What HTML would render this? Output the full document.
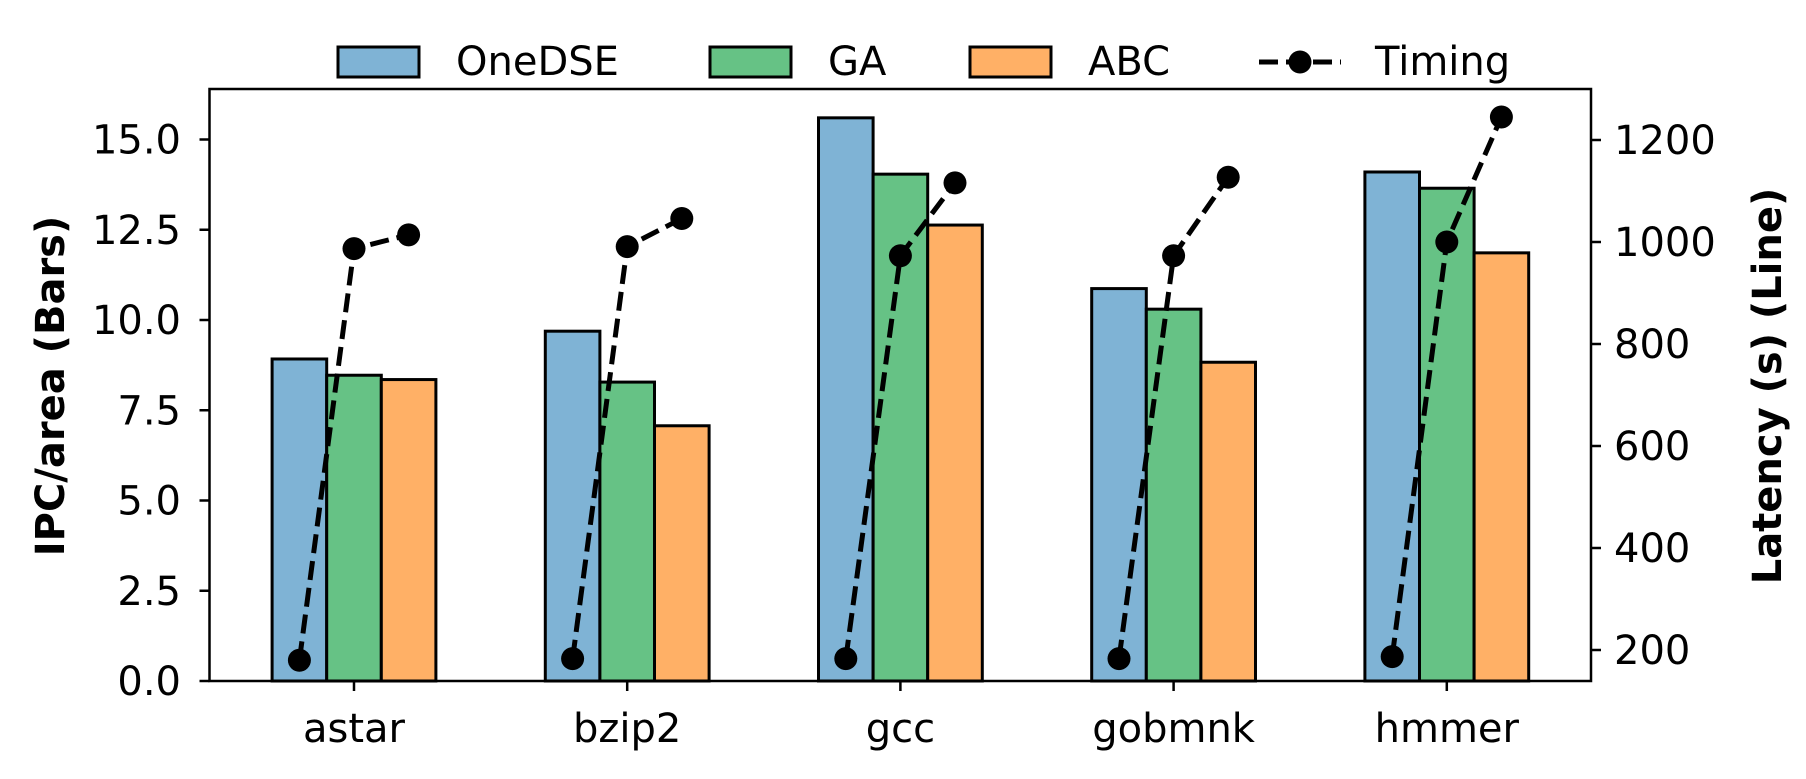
<!DOCTYPE html>
<html><head><meta charset="utf-8"><style>
body{margin:0;background:#fff;}
svg{display:block;font-family:"DejaVu Sans","Liberation Sans",sans-serif;}
</style></head><body>
<svg id="chart" width="1806" height="779" viewBox="0 0 1806 779"></svg>
<script>
const categories=["astar","bzip2","gcc","gobmnk","hmmer"];
const oneDSE=[8.92,9.69,15.6,10.87,14.1];
const ga=[8.47,8.28,14.04,10.3,13.65];
const abc=[8.35,7.07,12.63,8.83,11.86];
const timingOneDSE=[180,183,183,183,187];
const timingGA=[987,991,973,973,1000];
const timingABC=[1014,1046,1116,1127,1245];
const leftTicks=[0,2.5,5,7.5,10,12.5,15];
const leftTickLabels=["0.0","2.5","5.0","7.5","10.0","12.5","15.0"];
const rightTicks=[200,400,600,800,1000,1200];

const svg=document.getElementById('chart');
const NS='http://www.w3.org/2000/svg';
const L=209.5,R=1591,T=89,B=681;
const FS=40;
const yL=v=>B-v*36.1;
const yR=v=>650-(v-200)*(510/1000);
const x0=354,gap=273.2,bw=54.6;
const xC=i=>x0+i*gap;
function mk(tag,attrs,name,text){const e=document.createElementNS(NS,tag);for(const k in attrs)e.setAttribute(k,attrs[k]);


if(text!==undefined)e.textContent=text;svg.appendChild(e);return e;}
const series=[[oneDSE,'#7fb3d5','onedse'],[ga,'#66c285','ga'],[abc,'#ffb066','abc']];
series.forEach((s,si)=>{s[0].forEach((v,i)=>{const cx=xC(i)+(si-1)*bw;
mk('rect',{x:cx-bw/2,y:yL(v),width:bw,height:B-yL(v),fill:s[1],stroke:'#000','stroke-width':3},'bar-'+s[2]+'-'+categories[i]);});});
categories.forEach((c,i)=>{const xs=[-1,0,1].map(o=>xC(i)+o*bw);const vs=[timingOneDSE[i],timingGA[i],timingABC[i]];
mk('polyline',{points:xs.map((x,k)=>x+','+yR(vs[k])).join(' '),fill:'none',stroke:'#000','stroke-width':5,'stroke-dasharray':'19,8'},'timing-line-'+c);
xs.forEach((x,k)=>mk('circle',{cx:x,cy:yR(vs[k]),r:11.5,fill:'#000'},'timing-point-'+c));
mk('line',{x1:xC(i),y1:B,x2:xC(i),y2:B+10,stroke:'#000','stroke-width':2.5},'x-tick');
mk('text',{x:xC(i),y:742,'font-size':FS,'text-anchor':'middle'},'x-tick-label',c);});
mk('rect',{x:L,y:T,width:R-L,height:B-T,fill:'none',stroke:'#000','stroke-width':2.5},'plot-frame');
leftTicks.forEach((v,i)=>{mk('line',{x1:L-10,y1:yL(v),x2:L,y2:yL(v),stroke:'#000','stroke-width':2.5},'y-tick-left');
mk('text',{x:181,y:yL(v)+14,'font-size':FS,'text-anchor':'end'},'y-tick-label-left',leftTickLabels[i]);});
rightTicks.forEach(v=>{mk('line',{x1:R,y1:yR(v),x2:R+10,y2:yR(v),stroke:'#000','stroke-width':2.5},'y-tick-right');
mk('text',{x:1614,y:yR(v)+14,'font-size':FS},'y-tick-label-right',String(v));});
mk('text',{x:0,y:0,'font-size':FS,'font-weight':'bold','text-anchor':'middle',transform:'translate(64,386) rotate(-90)'},'y-axis-title-left','IPC/area (Bars)');
mk('text',{x:0,y:0,'font-size':FS,'font-weight':'bold','text-anchor':'middle',transform:'translate(1781,386) rotate(-90)'},'y-axis-title-right','Latency (s) (Line)');
[['OneDSE','#7fb3d5',338,456],['GA','#66c285',710,828],['ABC','#ffb066',970,1088]].forEach(e=>{
mk('rect',{x:e[2],y:47,width:81,height:30,fill:e[1],stroke:'#000','stroke-width':3},'legend-swatch-'+e[0].toLowerCase());
mk('text',{x:e[3],y:75,'font-size':FS},'legend-label-'+e[0].toLowerCase(),e[0]);});
mk('line',{x1:1259,y1:62,x2:1341,y2:62,stroke:'#000','stroke-width':5,'stroke-dasharray':'19,8'},'legend-timing-line');
mk('circle',{cx:1300,cy:62,r:11.5,fill:'#000'},'legend-timing-marker');
mk('text',{x:1375,y:75,'font-size':FS},'legend-label-timing','Timing');
</script>
</body></html>
